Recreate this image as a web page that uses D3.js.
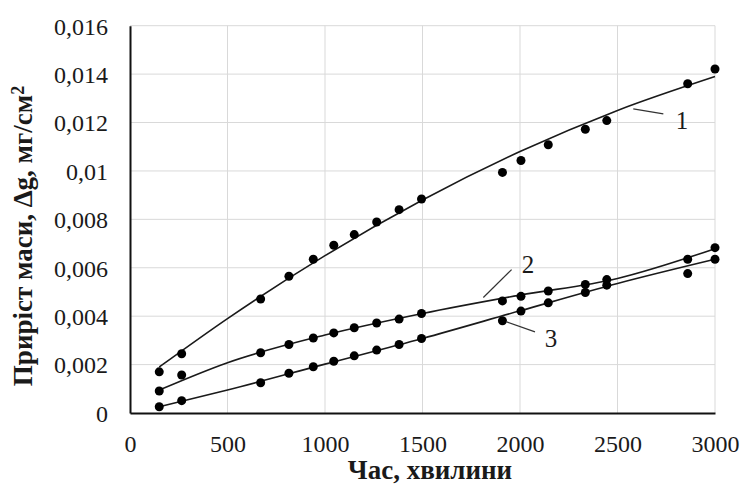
<!DOCTYPE html>
<html><head><meta charset="utf-8">
<script src="https://cdn.jsdelivr.net/npm/d3@7"></script>
<style>
html,body{margin:0;padding:0;background:#fff;}
svg{display:block;}
</style></head>
<body>
<svg id="chart" width="742" height="486"></svg>
<script>
// ---- data ----
const times = [150, 265, 670, 815, 940, 1045, 1150, 1265, 1380, 1495, 1910, 2005, 2145, 2335, 2445, 2860, 3000];
const series1 = [0.0017, 0.00245, 0.00471, 0.00565, 0.00635, 0.00693, 0.00737, 0.00789, 0.0084, 0.00884, 0.00994, 0.01043, 0.01108, 0.01172, 0.01208, 0.0136, 0.01421];
const series2 = [0.00091, 0.00157, 0.00249, 0.00283, 0.0031, 0.00331, 0.00352, 0.00372, 0.00388, 0.00411, 0.00463, 0.00482, 0.00504, 0.00531, 0.00551, 0.00635, 0.00683];
const series3 = [0.00026, 0.00051, 0.00125, 0.00164, 0.00191, 0.00214, 0.00236, 0.0026, 0.00283, 0.00308, 0.00381, 0.00421, 0.00455, 0.00498, 0.00528, 0.00576, 0.00635];
const trendX = [150, 500, 1000, 1500, 2000, 2500, 3000];
const trend1 = [0.0019, 0.0039, 0.0065, 0.0088, 0.0108, 0.0125, 0.0139];
const trend2 = [0.00095, 0.00208, 0.00322, 0.00411, 0.00487, 0.00556, 0.00679];
const trend3 = [0.00026, 0.00095, 0.00202, 0.00308, 0.00422, 0.00535, 0.00635];
const xTicks = [0, 500, 1000, 1500, 2000, 2500, 3000];
const yTicks = [0, 0.002, 0.004, 0.006, 0.008, 0.01, 0.012, 0.014, 0.016];
const curveLabels = ["1", "2", "3"];
const labelX = [2831, 2041, 2159];
const labelY = [0.01175, 0.005773, 0.002722];
const leaderX1 = [2581, 1812, 1932];
const leaderY1 = [0.012565, 0.004771, 0.003765];
const leaderX2 = [2735, 1957, 2077];
const leaderY2 = [0.012359, 0.005926, 0.003353];
const xTitle = "Час, хвилини";
const yTitle = "Приріст маси, Δg, мг/см";

// ---- layout ----
const svg = d3.select("#chart");
const L = 130, R = 715, T = 25.7, B = 413;
const x = d3.scaleLinear().domain([0, 3000]).range([L, R]);
const y = d3.scaleLinear().domain([0, 0.016]).range([B, T]);
const font = "'Liberation Serif','Times New Roman',serif";
const fmt = v => String(+v.toFixed(3)).replace(".", ",");

// grid
svg.append("g").selectAll("line").data(yTicks.filter(v => v > 0)).join("line")
  .attr("x1", L).attr("x2", R).attr("y1", d => y(d)).attr("y2", d => y(d))
  .attr("stroke", "#d9d9d9").attr("stroke-width", 1);
svg.append("g").selectAll("line").data(xTicks.filter(v => v > 0)).join("line")
  .attr("y1", T).attr("y2", B).attr("x1", d => x(d)).attr("x2", d => x(d))
  .attr("stroke", "#d9d9d9").attr("stroke-width", 1);

// axes
const xAxis = svg.append("g").attr("transform", `translate(0,${B})`)
  .call(d3.axisBottom(x).tickValues(xTicks).tickSize(0).tickPadding(22).tickFormat(d => String(d)));
const yAxis = svg.append("g").attr("transform", `translate(${L},0)`)
  .call(d3.axisLeft(y).tickValues(yTicks).tickSize(0).tickPadding(22).tickFormat(fmt));
[xAxis, yAxis].forEach(g => {
  g.select(".domain").attr("stroke", "#111").attr("stroke-width", 2);
  g.selectAll("text").attr("font-family", font).attr("font-size", 24).attr("fill", "#1a1a1a");
});
yAxis.selectAll("text").attr("dy", "0.35em");
xAxis.selectAll("text").attr("dy", "0.71em");

// trend lines
const line = d3.line().x(d => x(d[0])).y(d => y(d[1])).curve(d3.curveMonotoneX);
[trend1, trend2, trend3].forEach(t => {
  svg.append("path").datum(trendX.map((v, i) => [v, t[i]]))
    .attr("d", line).attr("fill", "none").attr("stroke", "#1a1a1a").attr("stroke-width", 1.6);
});

// points
[series1, series2, series3].forEach(s => {
  svg.append("g").selectAll("circle").data(times.map((v, i) => [v, s[i]])).join("circle")
    .attr("cx", d => x(d[0])).attr("cy", d => y(d[1])).attr("r", 4.5).attr("fill", "#000");
});

// curve labels with leader lines
curveLabels.forEach((lab, i) => {
  svg.append("line")
    .attr("x1", x(leaderX1[i])).attr("y1", y(leaderY1[i]))
    .attr("x2", x(leaderX2[i])).attr("y2", y(leaderY2[i]))
    .attr("stroke", "#333").attr("stroke-width", 1.2);
  svg.append("text").attr("x", x(labelX[i])).attr("y", y(labelY[i]))
    .attr("text-anchor", "middle").attr("font-family", font).attr("font-size", 25)
    .attr("fill", "#1a1a1a").text(lab);
});

// titles
svg.append("text").attr("x", 430).attr("y", 479).attr("text-anchor", "middle")
  .attr("font-family", font).attr("font-size", 27).attr("font-weight", "bold")
  .attr("fill", "#1a1a1a").text(xTitle);
const yt = svg.append("text").attr("transform", "translate(32,236) rotate(-90)")
  .attr("text-anchor", "middle").attr("font-family", font).attr("font-size", 27)
  .attr("font-weight", "bold").attr("fill", "#1a1a1a");
yt.append("tspan").text(yTitle);
yt.append("tspan").attr("dy", "-0.45em").attr("font-size", 18).text("2");
</script>
</body></html>
